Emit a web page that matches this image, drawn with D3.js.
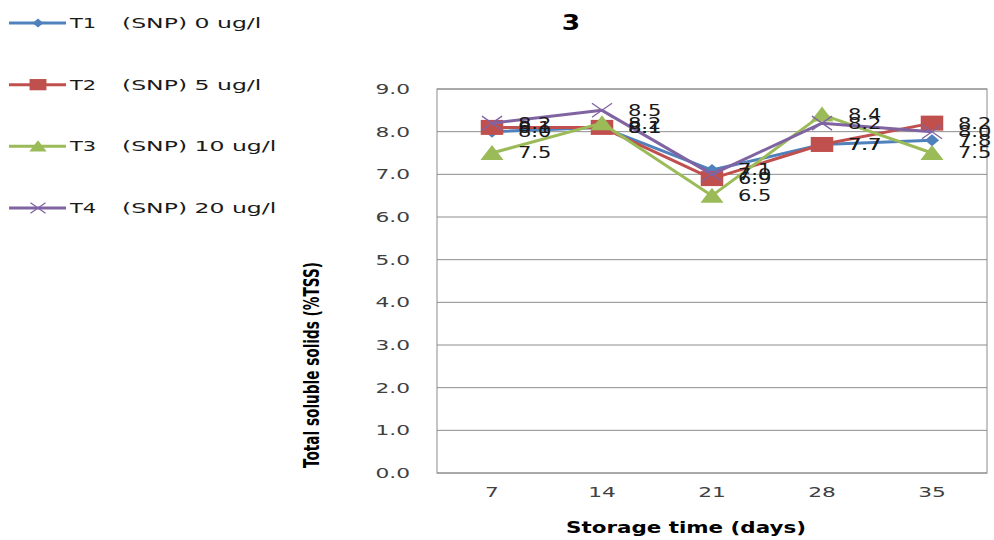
<!DOCTYPE html>
<html>
<head>
<meta charset="utf-8">
<script src="https://cdn.jsdelivr.net/npm/d3@7"></script>
<style>
  body { margin: 0; background: #fff; }
  svg { display: block; }
  text { font-family: "DejaVu Sans", Verdana, sans-serif; }
</style>
</head>
<body>
<svg id="chart"></svg>
<script>
// Data
const days = ['7', '14', '21', '28', '35'];
const seriesNames = ['T1', 'T2', 'T3', 'T4'];
const seriesDoses = ['(SNP) 0 ug/l', '(SNP) 5 ug/l', '(SNP) 10 ug/l', '(SNP) 20 ug/l'];
const t1Values = [8.0, 8.1, 7.1, 7.7, 7.8];
const t2Values = [8.1, 8.1, 6.9, 7.7, 8.2];
const t3Values = [7.5, 8.2, 6.5, 8.4, 7.5];
const t4Values = [8.2, 8.5, 7.0, 8.2, 8.0];
const yTicks = [0, 1, 2, 3, 4, 5, 6, 7, 8, 9];

const colors = ['#4F81BD', '#C0504D', '#9BBB59', '#8064A2'];
const allValues = [t1Values, t2Values, t3Values, t4Values];
const series = seriesNames.map((name, i) => ({
  name: name, dose: seriesDoses[i], color: colors[i],
  values: allValues[i].map((v, j) => ({ day: days[j], value: v }))
}));

const width = 994, height = 540;
const margin = { top: 89, right: 7, bottom: 67, left: 437 };
const innerW = width - margin.left - margin.right;
const innerH = height - margin.top - margin.bottom;

// horizontally widen text (the reference is stretched sideways)
function stretch(sel, k) {
  sel.each(function () {
    const len = this.getComputedTextLength();
    d3.select(this).attr('textLength', len * k).attr('lengthAdjust', 'spacingAndGlyphs');
  });
}

// marker shapes, widened like the reference
function marker(g, i, s) {
  const sx = 1.5 * s, sy = 1 * s;
  if (i === 0) {
    g.append('path').attr('d', 'M0,-6L5,0L0,6L-5,0Z')
      .attr('transform', `scale(${sx * 0.95},${sy})`).attr('fill', colors[0]);
  } else if (i === 1) {
    g.append('rect').attr('x', -7.5).attr('y', -7.5).attr('width', 15).attr('height', 15)
      .attr('transform', `scale(${sx},${sy})`).attr('fill', colors[1]);
  } else if (i === 2) {
    g.append('path').attr('d', 'M0,-8L7.7,7L-7.7,7Z')
      .attr('transform', `scale(${sx},${sy})`).attr('fill', colors[2]);
  } else {
    g.append('path').attr('d', 'M-6.7,-7L6.7,7M-6.7,7L6.7,-7')
      .attr('transform', `scale(${sx},${sy})`).attr('fill', 'none')
      .attr('stroke', colors[3]).attr('stroke-width', 1.3).attr('vector-effect', 'non-scaling-stroke');
  }
}

const svg = d3.select('#chart').attr('width', width).attr('height', height);
const chart = svg.append('g').attr('transform', `translate(${margin.left},${margin.top})`);

const xScale = d3.scaleBand().domain(days).range([0, innerW]);
const yScale = d3.scaleLinear().domain([0, 9]).range([innerH, 0]);

// gridlines
chart.append('g').selectAll('line').data(yTicks).join('line')
  .attr('x1', 0).attr('x2', innerW)
  .attr('y1', d => yScale(d)).attr('y2', d => yScale(d))
  .attr('stroke', '#8c8c8c').attr('stroke-width', 1);

// plot frame
chart.append('rect').attr('width', innerW).attr('height', innerH)
  .attr('fill', 'none').attr('stroke', '#8c8c8c').attr('stroke-width', 1);

// y axis
const yAxis = d3.axisLeft(yScale).tickValues(yTicks).tickFormat(d3.format('.1f')).tickSize(0).tickPadding(27);
const yAxisG = chart.append('g').call(yAxis);
yAxisG.select('.domain').remove();
yAxisG.selectAll('text').attr('font-size', 14).attr('fill', '#404040')
  .attr('font-family', '"DejaVu Sans", Verdana, sans-serif');
stretch(yAxisG.selectAll('text'), 1.55);

// x axis
const xAxis = d3.axisBottom(xScale).tickSize(0).tickPadding(14);
const xAxisG = chart.append('g').attr('transform', `translate(0,${innerH})`).call(xAxis);
xAxisG.select('.domain').remove();
xAxisG.selectAll('text').attr('font-size', 14).attr('fill', '#404040')
  .attr('font-family', '"DejaVu Sans", Verdana, sans-serif');
stretch(xAxisG.selectAll('text'), 1.55);

// lines
const line = d3.line()
  .x(d => xScale(d.day) + xScale.bandwidth() / 2)
  .y(d => yScale(d.value));

series.forEach((s, i) => {
  const g = chart.append('g');
  g.append('path').datum(s.values).attr('d', line)
    .attr('fill', 'none').attr('stroke', s.color).attr('stroke-width', 3)
    .attr('stroke-linejoin', 'round');
  g.selectAll('.pt').data(s.values).join('g').attr('class', 'pt')
    .attr('transform', d => `translate(${xScale(d.day) + xScale.bandwidth() / 2},${yScale(d.value)})`)
    .each(function () { marker(d3.select(this), i, 1); });
});

// data labels
series.forEach(s => {
  const labels = chart.append('g').selectAll('text').data(s.values).join('text')
    .attr('x', d => xScale(d.day) + xScale.bandwidth() / 2 + 26)
    .attr('y', d => yScale(d.value))
    .attr('dy', '0.36em')
    .attr('font-size', 15).attr('fill', '#1a1a1a')
    .text(d => d3.format('.1f')(d.value));
  stretch(labels, 1.4);
});

// title
const title = svg.append('text').attr('x', 571).attr('y', 30)
  .attr('text-anchor', 'middle').attr('font-size', 22).attr('font-weight', 'bold')
  .attr('fill', '#000').text('3');
stretch(title, 1.2);

// axis titles
svg.append('text').attr('x', 686).attr('y', 533)
  .attr('text-anchor', 'middle').attr('font-size', 15).attr('font-weight', 'bold')
  .attr('fill', '#000').attr('textLength', 240).attr('lengthAdjust', 'spacingAndGlyphs')
  .text('Storage time (days)');

svg.append('text')
  .attr('transform', 'translate(319,365) scale(1.45,1) rotate(-90)')
  .attr('text-anchor', 'middle').attr('font-size', 15).attr('font-weight', 'bold')
  .attr('font-family', '"Liberation Sans Narrow", "DejaVu Sans Condensed", sans-serif')
  .attr('fill', '#000').attr('textLength', 206).attr('lengthAdjust', 'spacingAndGlyphs')
  .text('Total soluble solids (%TSS)');

// legend
const legend = svg.append('g');
const legendY = d3.scalePoint().domain(seriesNames).range([23, 208]);
series.forEach((s, i) => {
  const row = legend.append('g').attr('transform', `translate(0,${legendY(s.name)})`);
  row.append('line').attr('x1', 9).attr('x2', 66).attr('y1', 0).attr('y2', 0)
    .attr('stroke', s.color).attr('stroke-width', 3);
  const m = row.append('g').attr('transform', 'translate(38,0)');
  marker(m, i, 0.75);
  const t1 = row.append('text').attr('x', 70).attr('y', 0).attr('dy', '0.36em')
    .attr('font-size', 14).attr('fill', '#1a1a1a').text(s.name);
  stretch(t1, 1.5);
  const t2 = row.append('text').attr('x', 122).attr('y', 0).attr('dy', '0.36em')
    .attr('font-size', 14).attr('fill', '#1a1a1a').text(s.dose);
  stretch(t2, 1.68);
});
</script>
</body>
</html>
